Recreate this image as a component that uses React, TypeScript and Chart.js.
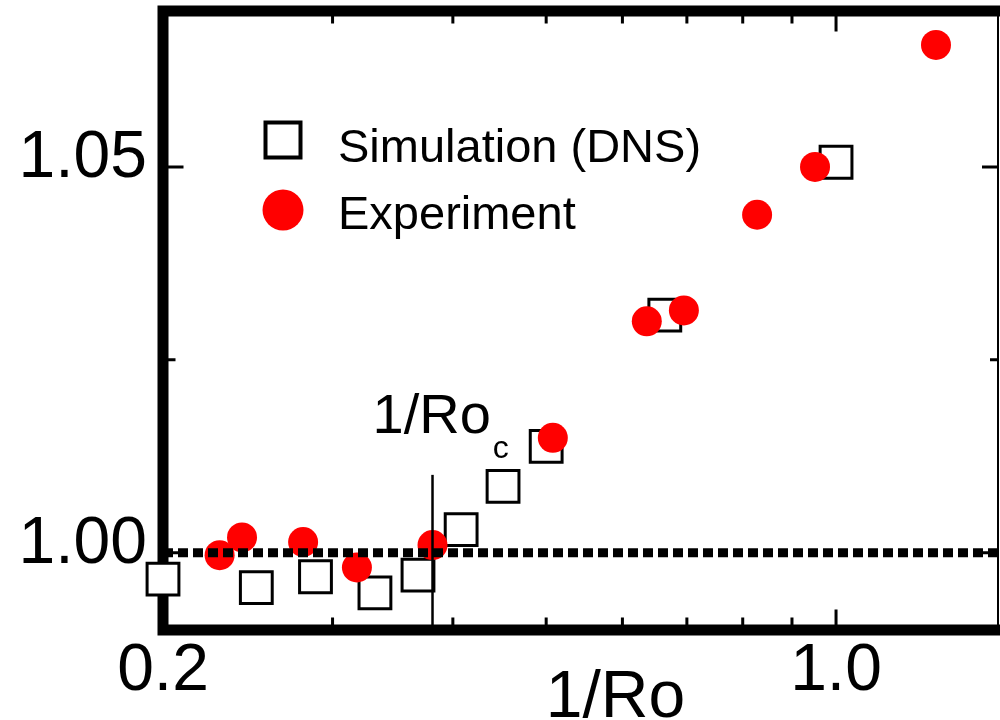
import React, { useEffect, useRef } from 'react';
import { Chart, registerables } from 'chart.js';

Chart.register(...registerables);

// ---- data ----
const simulationX = [0.2, 0.25, 0.288, 0.332, 0.368, 0.408, 0.451, 0.5, 0.664, 1.0];
const simulationY = [0.9966, 0.9955, 0.9969, 0.9948, 0.9971, 1.003, 1.0086, 1.0138, 1.0308, 1.0506];
const experimentX = [0.229, 0.2416, 0.2796, 0.318, 0.381, 0.508, 0.636, 0.695, 0.828, 0.951, 1.27];
const experimentY = [0.9997, 1.002, 1.0014, 0.9981, 1.001, 1.0149, 1.03, 1.0314, 1.0438, 1.05, 1.0658];
const criticalX = 0.381;
const criticalYRange = [0.99, 1.0101];
const referenceY = 1.0;
const xTickValues = [0.2, 0.3, 0.4, 0.5, 0.6, 0.7, 0.8, 0.9, 1.0];
const xTickLabels = ['0.2', '', '', '', '', '', '', '', '1.0'];
const yTickValues = [1.0, 1.025, 1.05];
const yTickLabels = ['1.00', '', '1.05'];
const xLimits = [0.2, 1.473];
const yLimits = [0.99, 1.0702];
const simulationLabel = 'Simulation (DNS)';
const experimentLabel = 'Experiment';
const xTitle = '1/Ro';
const criticalLabel = '1/Ro';
const criticalSub = 'c';

const FONT = "'Liberation Sans', Arial, sans-serif";

const framePlugin = {
  id: 'frame',
  beforeDatasetsDraw(chart: any) {
    const { ctx, chartArea: a, scales } = chart;
    const xs = scales.x;
    const ys = scales.y;
    const half = 5.5;
    ctx.save();
    ctx.strokeStyle = '#000';
    ctx.lineCap = 'butt';
    ctx.lineWidth = 3;
    xTickValues.forEach((v, i) => {
      const px = xs.getPixelForValue(v);
      const len = (xTickLabels[i] ? 15 : 7) + half;
      ctx.beginPath();
      ctx.moveTo(px, a.bottom);
      ctx.lineTo(px, a.bottom - len);
      ctx.moveTo(px, a.top);
      ctx.lineTo(px, a.top + len);
      ctx.stroke();
    });
    yTickValues.forEach((v, i) => {
      const py = ys.getPixelForValue(v);
      const len = yTickLabels[i] ? 15 : 7;
      ctx.beginPath();
      ctx.moveTo(a.left, py);
      ctx.lineTo(a.left + half + len, py);
      ctx.moveTo(a.right, py);
      ctx.lineTo(a.right - 1 - len, py);
      ctx.stroke();
    });
    // frame
    ctx.lineWidth = 11;
    ctx.lineJoin = 'miter';
    ctx.beginPath();
    ctx.moveTo(chart.width, a.top);
    ctx.lineTo(a.left, a.top);
    ctx.lineTo(a.left, a.bottom);
    ctx.lineTo(chart.width, a.bottom);
    ctx.stroke();
    ctx.lineWidth = 2;
    ctx.beginPath();
    ctx.moveTo(a.right, a.top);
    ctx.lineTo(a.right, a.bottom);
    ctx.stroke();
    ctx.restore();
  },
  afterDatasetsDraw(chart: any) {
    const { ctx, chartArea: a, scales } = chart;
    const xs = scales.x;
    const ys = scales.y;
    ctx.save();
    ctx.fillStyle = '#000';
    ctx.textBaseline = 'alphabetic';
    ctx.textAlign = 'left';
    // legend
    const symX = a.left + 120;
    ctx.lineWidth = 4;
    ctx.strokeStyle = '#000';
    ctx.fillStyle = '#fff';
    ctx.beginPath();
    ctx.rect(symX - 17.5, 140 - 17.5, 35, 35);
    ctx.fill();
    ctx.stroke();
    ctx.fillStyle = '#ff0000';
    ctx.beginPath();
    ctx.arc(symX, 210, 20.5, 0, Math.PI * 2);
    ctx.fill();
    ctx.fillStyle = '#000';
    ctx.font = `47px ${FONT}`;
    ctx.fillText(simulationLabel, a.left + 175, 162);
    ctx.fillText(experimentLabel, a.left + 175, 229);
    // critical annotation
    const cx = xs.getPixelForValue(criticalX);
    const cy = ys.getPixelForValue(criticalYRange[1]);
    ctx.font = `56px ${FONT}`;
    const w = ctx.measureText(criticalLabel).width;
    ctx.fillText(criticalLabel, cx - 60, cy - 42);
    ctx.font = `32px ${FONT}`;
    ctx.fillText(criticalSub, cx - 60 + w + 2, cy - 17);
    // x title
    ctx.font = `66px ${FONT}`;
    ctx.textAlign = 'center';
    ctx.fillText(xTitle, (a.left + a.right) / 2 + 35, 717);
    ctx.restore();
  },
};

export default function App() {
  const ref = useRef<HTMLCanvasElement | null>(null);
  useEffect(() => {
    if (!ref.current) return;
    const chart = new Chart(ref.current, {
      type: 'scatter',
      data: {
        datasets: [
          {
            type: 'line',
            label: 'critical',
            data: [
              { x: criticalX, y: criticalYRange[0] },
              { x: criticalX, y: criticalYRange[1] },
            ],
            borderColor: '#000',
            borderWidth: 2.5,
            pointRadius: 0,
            order: 0,
          } as any,
          {
            type: 'line',
            label: 'reference',
            data: [
              { x: xLimits[0], y: referenceY },
              { x: xLimits[1], y: referenceY },
            ],
            borderColor: '#000',
            borderWidth: 9,
            borderDash: [10, 5],
            borderCapStyle: 'butt',
            pointRadius: 0,
            order: 1,
          } as any,
          {
            label: experimentLabel,
            data: experimentX.map((x, i) => ({ x, y: experimentY[i] })),
            pointStyle: 'circle',
            pointRadius: 15,
            backgroundColor: '#ff0000',
            borderWidth: 0,
            clip: false,
            order: 2,
          } as any,
          {
            label: simulationLabel,
            data: simulationX.map((x, i) => ({ x, y: simulationY[i] })),
            pointStyle: 'rect',
            pointRadius: 22.5,
            backgroundColor: '#ffffff',
            borderColor: '#000',
            borderWidth: 3,
            clip: false,
            order: 3,
          } as any,
        ],
      },
      options: {
        animation: false,
        responsive: false,
        devicePixelRatio: 1,
        events: [],
        layout: { autoPadding: false, padding: { top: 11, right: 2, left: 0, bottom: 0 } },
        plugins: { legend: { display: false }, tooltip: { enabled: false } },
        scales: {
          x: {
            type: 'logarithmic',
            min: xLimits[0],
            max: xLimits[1],
            afterBuildTicks: (s: any) => {
              s.ticks = xTickValues.map((v) => ({ value: v }));
            },
            afterFit: (s: any) => {
              s.height = 90;
              s.paddingLeft = 0;
              s.paddingRight = 0;
              s.paddingTop = 0;
              s.paddingBottom = 0;
            },
            ticks: {
              autoSkip: false,
              maxRotation: 0,
              minRotation: 0,
              padding: 2,
              color: '#000',
              font: { family: FONT, size: 66 },
              callback: (_v: any, i: number) => xTickLabels[i],
            },
            grid: { display: false, drawTicks: false },
            border: { display: false },
          },
          y: {
            type: 'linear',
            min: yLimits[0],
            max: yLimits[1],
            afterBuildTicks: (s: any) => {
              s.ticks = yTickValues.map((v) => ({ value: v }));
            },
            afterFit: (s: any) => {
              s.width = 163;
              s.paddingLeft = 0;
              s.paddingRight = 0;
              s.paddingTop = 0;
              s.paddingBottom = 0;
            },
            ticks: {
              autoSkip: false,
              padding: 16,
              labelOffset: -8,
              color: '#000',
              font: { family: FONT, size: 66 },
              callback: (_v: any, i: number) => yTickLabels[i],
            },
            grid: { display: false, drawTicks: false },
            border: { display: false },
          },
        },
      } as any,
      plugins: [framePlugin],
    });
    return () => chart.destroy();
  }, []);
  return (
    <div style={{ position: 'fixed', left: 0, top: 0, width: 1000, height: 720, background: '#fff' }}>
      <canvas ref={ref} width={1000} height={720} style={{ width: 1000, height: 720, display: 'block' }} />
    </div>
  );
}
